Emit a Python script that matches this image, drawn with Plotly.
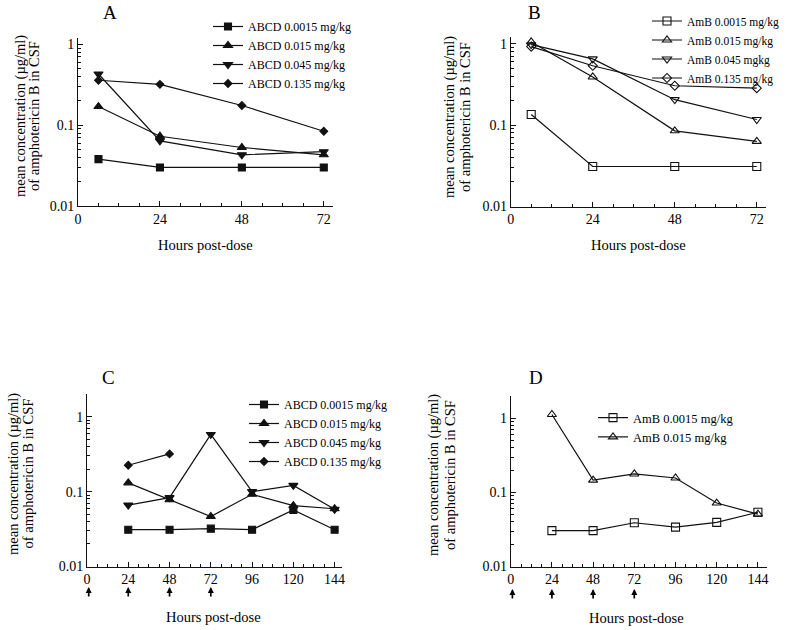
import plotly.graph_objects as go

# ---------------- data ----------------
# Panel A: ABCD single dose
hours_ab = [6, 24, 48, 72]
abcd_00015_A = [0.038, 0.030, 0.030, 0.030]
abcd_0015_A = [0.17, 0.073, 0.053, 0.043]
abcd_0045_A = [0.43, 0.064, 0.043, 0.047]
abcd_0135_A = [0.36, 0.32, 0.175, 0.084]

# Panel B: AmB single dose
amb_00015_B = [0.135, 0.031, 0.031, 0.031]
amb_0015_B = [1.05, 0.39, 0.085, 0.063]
amb_0045_B = [0.97, 0.65, 0.205, 0.117]
amb_0135_B = [0.92, 0.535, 0.304, 0.284]

# Panel C: ABCD multiple doses
hours_cd = [24, 48, 72, 96, 120, 144]
abcd_00015_C = [0.031, 0.031, 0.032, 0.031, 0.057, 0.031]
abcd_0015_C = [0.131, 0.078, 0.0465, 0.092, 0.065, 0.059]
abcd_0045_C = [0.066, 0.083, 0.58, 0.100, 0.121, 0.058]
hours_c4 = [24, 48]
abcd_0135_C = [0.225, 0.319]

# Panel D: AmB multiple doses
amb_00015_D = [0.0305, 0.0305, 0.039, 0.034, 0.0395, 0.054]
amb_0015_D = [1.13, 0.147, 0.178, 0.157, 0.072, 0.051]

dose_hours = [1, 24, 48, 72]

ytick_vals = [0.01, 0.1, 1]
ytick_text = ["0.01", "0.1", "1"]
ab_xticks = [0, 24, 48, 72]
cd_xticks = [0, 24, 48, 72, 96, 120, 144]

panel_letters = ["A", "B", "C", "D"]
ytitle1 = "mean concentration (µg/ml)"
ytitle2 = "of amphotericin B in CSF"
xtitle = "Hours post-dose"

# ---------------- figure ----------------
FONT = "Liberation Serif"
W, H = 788, 630
LC = "#111111"

def px(x):
    return x / W

def py(y):
    return 1 - y / H

fig = go.Figure()

def add(x, y, name, symbol, size, xa, ya, legend):
    fig.add_trace(go.Scatter(
        x=x, y=y, name=name, mode="lines+markers",
        line=dict(color=LC, width=1.2),
        marker=dict(symbol=symbol, size=size, color=LC,
                    line=dict(color=LC, width=1.1)),
        xaxis=xa, yaxis=ya, legend=legend,
    ))

add(hours_ab, abcd_00015_A, "ABCD 0.0015 mg/kg", "square", 7, "x", "y", "legend")
add(hours_ab, abcd_0015_A, "ABCD 0.015 mg/kg", "triangle-up", 8, "x", "y", "legend")
add(hours_ab, abcd_0045_A, "ABCD 0.045 mg/kg", "triangle-down", 8, "x", "y", "legend")
add(hours_ab, abcd_0135_A, "ABCD 0.135 mg/kg", "diamond", 6, "x", "y", "legend")

add(hours_ab, amb_00015_B, "AmB 0.0015 mg/kg", "square-open", 8, "x2", "y2", "legend2")
add(hours_ab, amb_0015_B, "AmB 0.015 mg/kg", "triangle-up-open", 8, "x2", "y2", "legend2")
add(hours_ab, amb_0045_B, "AmB 0.045 mgkg", "triangle-down-open", 8, "x2", "y2", "legend2")
add(hours_ab, amb_0135_B, "AmB 0.135 mg/kg", "diamond-open", 7, "x2", "y2", "legend2")

add(hours_cd, abcd_00015_C, "ABCD 0.0015 mg/kg", "square", 7, "x3", "y3", "legend3")
add(hours_cd, abcd_0015_C, "ABCD 0.015 mg/kg", "triangle-up", 8, "x3", "y3", "legend3")
add(hours_cd, abcd_0045_C, "ABCD 0.045 mg/kg", "triangle-down", 8, "x3", "y3", "legend3")
add(hours_c4, abcd_0135_C, "ABCD 0.135 mg/kg", "diamond", 6, "x3", "y3", "legend3")

add(hours_cd, amb_00015_D, "AmB 0.0015 mg/kg", "square-open", 8, "x4", "y4", "legend4")
add(hours_cd, amb_0015_D, "AmB 0.015 mg/kg", "triangle-up-open", 8, "x4", "y4", "legend4")

# panel geometry in pixels: (left, right, top, bottom)
geo = {
    "A": (78, 333, 37.5, 206),
    "B": (510.7, 766, 36.7, 206.5),
    "C": (87, 341.5, 393.5, 566.5),
    "D": (510.7, 766.5, 395.5, 566.5),
}

minor_y = [k * 10 ** e for e in (-2, -1) for k in range(2, 10)] + [2]

def xaxis_cfg(p, rng, tickvals):
    l, r, t, b = geo[p]
    return dict(
        domain=[px(l), px(r)], range=rng, showline=True, linecolor=LC, linewidth=1,
        ticks="inside", ticklen=5, tickwidth=1, tickcolor=LC,
        tickmode="array", tickvals=tickvals, showgrid=False, zeroline=False,
        tickfont=dict(family=FONT, size=14, color="black"),
        minor=dict(ticks="inside", ticklen=3, tickwidth=1, tickcolor=LC, dtick=6,
                   tick0=0, showgrid=False),
        automargin=False, fixedrange=True,
    )

def yaxis_cfg(p, top, anchor):
    l, r, t, b = geo[p]
    return dict(
        domain=[py(b), py(t)], type="log", range=[-2, top], anchor=anchor,
        showline=True, linecolor=LC, linewidth=1,
        ticks="inside", ticklen=5, tickwidth=1, tickcolor=LC,
        tickmode="array", tickvals=ytick_vals, ticktext=ytick_text,
        showgrid=False, zeroline=False,
        tickfont=dict(family=FONT, size=14, color="black"),
        minor=dict(ticks="inside", ticklen=3, tickwidth=1, tickcolor=LC,
                   tickmode="array", tickvals=minor_y, showgrid=False),
        automargin=False, fixedrange=True,
    )

fig.update_layout(
    width=W, height=H, margin=dict(l=0, r=0, t=0, b=0, autoexpand=False),
    paper_bgcolor="white", plot_bgcolor="white",
    font=dict(family=FONT, size=14, color="black"),
    xaxis=xaxis_cfg("A", [0, 74.7], ab_xticks) | dict(anchor="y"),
    yaxis=yaxis_cfg("A", 0.085, "x"),
    xaxis2=xaxis_cfg("B", [0, 74.7], ab_xticks) | dict(anchor="y2"),
    yaxis2=yaxis_cfg("B", 0.085, "x2"),
    xaxis3=xaxis_cfg("C", [0, 148], cd_xticks) | dict(anchor="y3"),
    yaxis3=yaxis_cfg("C", 0.31, "x3"),
    xaxis4=xaxis_cfg("D", [0, 149], cd_xticks) | dict(anchor="y4"),
    yaxis4=yaxis_cfg("D", 0.31, "x4"),
)

legend_common = dict(xanchor="left", yanchor="top", bgcolor="rgba(0,0,0,0)",
                     xref="container", yref="container",
                     itemwidth=30, tracegroupgap=0)
fig.update_layout(
    legend=legend_common | dict(x=px(208), y=py(12),
                                font=dict(family=FONT, size=12, color="black")),
    legend2=legend_common | dict(x=px(647), y=py(6.5),
                                 font=dict(family=FONT, size=11.5, color="black")),
    legend3=legend_common | dict(x=px(244), y=py(390),
                                 font=dict(family=FONT, size=12, color="black")),
    legend4=legend_common | dict(x=px(593), y=py(403),
                                 font=dict(family=FONT, size=12.5, color="black")),
)

ann = []
# panel letters
letter_pos = {"A": (110, 12), "B": (534, 12.5), "C": (108.5, 377), "D": (536, 377.5)}
for p in panel_letters:
    x, y = letter_pos[p]
    ann.append(dict(text=p, x=px(x), y=py(y), xref="paper", yref="paper",
                    xanchor="center", yanchor="middle",
                    showarrow=False, font=dict(family=FONT, size=19, color="black")))

# y-axis titles (two lines each)
ytitle_pos = {"A": (20, 34, 116), "B": (449, 465, 117), "C": (13, 27.5, 474), "D": (433, 450, 475)}
for p in panel_letters:
    x1, x2, yc = ytitle_pos[p]
    for xx, txt in ((x1, ytitle1), (x2, ytitle2)):
        ann.append(dict(text=txt, x=px(xx), y=py(yc), xref="paper", yref="paper",
                        xanchor="center", yanchor="middle",
                        textangle=-90, showarrow=False,
                        font=dict(family=FONT, size=14.5, color="black")))

# x-axis titles
xtitle_pos = {"A": (205.5, 245), "B": (638.5, 245), "C": (213, 617), "D": (636, 618)}
for p in panel_letters:
    x, y = xtitle_pos[p]
    ann.append(dict(text=xtitle, x=px(x), y=py(y), xref="paper", yref="paper",
                    xanchor="center", yanchor="middle",
                    showarrow=False, font=dict(family=FONT, size=14.5, color="black")))

# dosing arrows under panels C and D
for xa, ytip in (("x3", 587), ("x4", 589)):
    for h in dose_hours:
        ann.append(dict(text="", x=h, y=py(ytip), xref=xa, yref="paper",
                        showarrow=True, ax=0, ay=11, arrowhead=2, arrowsize=0.7,
                        arrowwidth=1.7, arrowcolor="black"))

fig.update_layout(annotations=ann)

fig.write_html("out.html",
               config={"displayModeBar": False},
               post_script="document.body.style.margin='0';document.body.style.overflow='hidden';")
